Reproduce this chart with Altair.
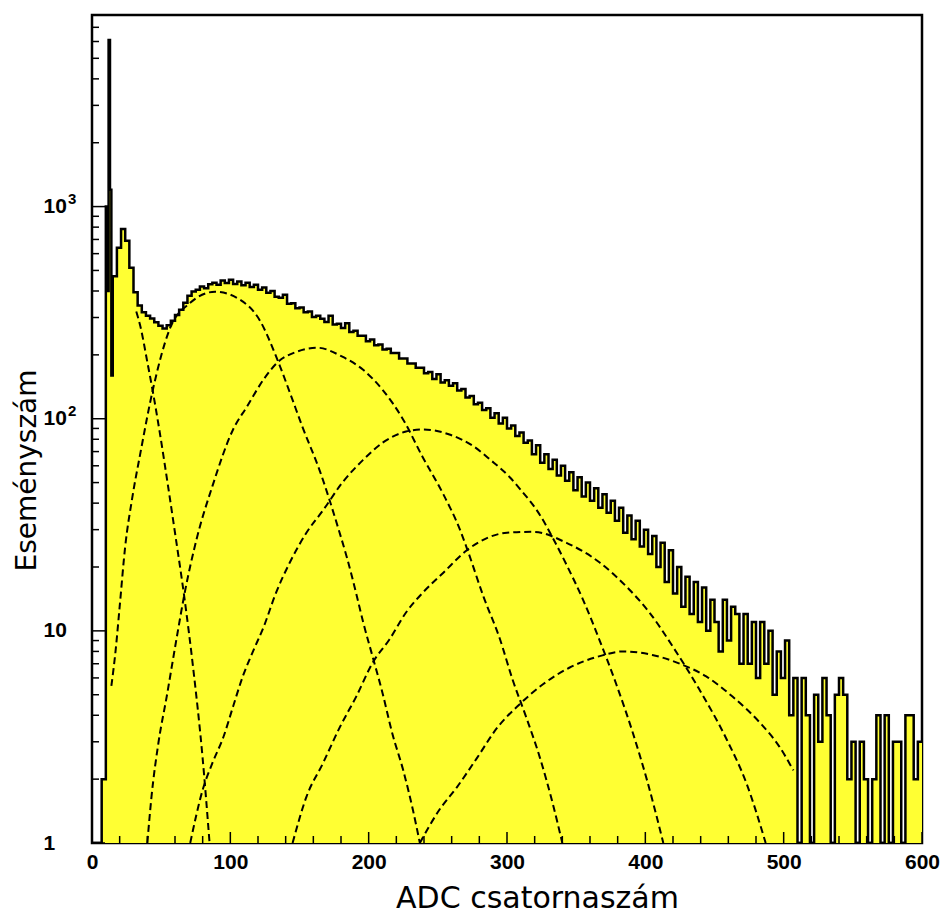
import altair as alt
import pandas as pd

# ---------------- histogram: counts per bin ----------------
# 1-channel bins for channels 0-14 (pedestal spike region)
fine_counts = [0, 0, 0, 0, 0, 0, 0, 2, 2, 2, 1000, 400, 6100, 1200, 160]
# 3-channel bins for channels 15-599
coarse_counts = [
    470, 640, 785, 690, 515, 395, 342, 318, 306, 297,
    285, 274, 266, 276, 290, 308, 326, 352, 380, 398,
    405, 420, 412, 430, 438, 428, 448, 436, 452, 432,
    443, 426, 438, 418, 428, 406, 416, 392, 400, 376,
    372, 384, 348, 350, 332, 334, 318, 320, 302, 306,
    296, 286, 306, 278, 280, 268, 282, 256, 260, 246,
    246, 232, 236, 222, 224, 212, 214, 204, 204, 192,
    192, 182, 182, 174, 174, 164, 166, 154, 162, 148,
    152, 143, 147, 136, 138, 126, 128, 117, 119, 110,
    112, 101, 106, 95, 101, 90, 93, 83, 86, 77,
    79, 68, 75, 62, 68, 58, 64, 54, 60, 51,
    56, 46, 53, 43, 50, 41, 47, 38, 44, 36,
    41, 33, 38, 29, 35, 27, 33, 25, 30, 23,
    28, 20, 26, 17, 24, 15, 20, 13, 18, 12,
    17, 11, 16, 10, 14, 11, 8, 14, 9, 13,
    12, 7, 12, 7, 11, 6, 11, 7, 10, 5,
    8, 6, 9, 4, 6, 1, 6, 4, 1, 5,
    3, 6, 4, 1, 5, 6, 5, 2, 3, 1,
    3, 2, 1, 2, 4, 1, 4, 1, 3, 3,
    1, 4, 4, 2, 3,
]
fine_left = list(range(0, 15))
coarse_left = list(range(15, 600, 3))

# ---------------- fitted components (dashed) ----------------
g1_ch = [32, 35, 40, 44, 49, 55, 60, 67, 73, 80, 85]
g1_val = [320, 272, 185, 134, 86, 48, 29, 14, 6.8, 2.5, 1.0]

g2_ch = [14, 17, 20, 24, 29, 35, 44, 56, 71, 89, 107, 121, 134, 143, 152, 165,
         179, 184, 191, 196, 203, 210, 217, 225, 232, 237]
g2_val = [5.5, 8, 13, 25, 42, 69, 137, 263, 352, 397, 364, 293, 190, 133, 92, 56,
          29, 22.5, 15, 11, 7.5, 5.1, 3.3, 2.2, 1.43, 1.0]

g3_ch = [40, 43, 48, 54, 61, 67, 76, 87, 102, 112, 124, 134, 148, 163, 181, 196,
         210, 225, 239, 254, 266, 271, 283, 295, 304, 314, 324, 333, 340]
g3_val = [1.0, 1.65, 2.96, 4.9, 9.1, 15.1, 27.7, 48, 89, 114, 153, 184, 207, 216, 196, 170,
          137, 99, 66, 44, 30, 24.5, 14.5, 9.1, 5.9, 3.9, 2.5, 1.54, 1.0]

g4_ch = [71, 80, 87, 95, 102, 109, 116, 124, 133, 143, 155, 167, 181, 196, 210, 227,
         239, 259, 276, 288, 302, 309, 324, 333, 343, 355, 367, 379, 391, 401, 413]
g4_val = [1.0, 1.78, 2.38, 3.16, 4.4, 6.1, 7.9, 10.4, 15.1, 21, 29, 37, 50, 64, 77, 87,
          89, 84, 74, 64, 53, 47, 35, 27.5, 20.5, 14, 9, 5.6, 3.3, 2.0, 1.0]

g5_ch = [145, 155, 167, 179, 191, 203, 215, 227, 239, 254, 271, 300, 319, 343, 367,
         387, 403, 420, 439, 459, 473, 487]
g5_val = [1.0, 1.65, 2.38, 3.5, 4.9, 7.1, 9.1, 12.2, 15.1, 18.8, 24, 29, 29.3, 26, 21,
          16, 12.2, 8.4, 5.3, 3.06, 1.92, 1.0]

g6_ch = [237, 251, 264, 278, 293, 309, 326, 345, 367, 384, 405, 425, 444, 463, 483, 497, 507]
g6_val = [1.0, 1.43, 1.84, 2.5, 3.5, 4.5, 5.6, 6.7, 7.6, 8.0, 7.7, 7.0, 6.1, 4.9, 3.68, 2.84, 2.2]

# ---------------- axis ticks / labels ----------------
x_label_values = [0, 100, 200, 300, 400, 500, 600]
x_minor_values = [20, 40, 60, 80, 120, 140, 160, 180, 220, 240, 260, 280, 320, 340, 360, 380,
                  420, 440, 460, 480, 520, 540, 560, 580]
y_label_values = [1, 10, 100, 1000]
y_exponent_values = [100, 1000]
y_exponent_text = ["2", "3"]
y_minor_values = [2, 3, 4, 5, 6, 7, 8, 9, 20, 30, 40, 50, 60, 70, 80, 90,
                  200, 300, 400, 500, 600, 700, 800, 900, 2000, 3000, 4000, 5000, 6000, 7000, 8000]

# ---------------- build tables ----------------
bin_left = fine_left + coarse_left + [600]
bin_counts = fine_counts + coarse_counts + [coarse_counts[-1]]
hist_df = pd.DataFrame({"ch": bin_left, "c": bin_counts})
hist_df["v"] = hist_df["c"].clip(lower=1)

curve_frames = []
for name, xs_, vs_ in [("g1", g1_ch, g1_val), ("g2", g2_ch, g2_val), ("g3", g3_ch, g3_val),
                       ("g4", g4_ch, g4_val), ("g5", g5_ch, g5_val), ("g6", g6_ch, g6_val)]:
    curve_frames.append(pd.DataFrame({"curve": name, "ch": xs_, "v": vs_}))
curve_df = pd.concat(curve_frames, ignore_index=True)

x_major_df = pd.DataFrame({"ch": x_label_values})
x_minor_df = pd.DataFrame({"ch": x_minor_values})
y_major_df = pd.DataFrame({"v": y_label_values})
y_minor_df = pd.DataFrame({"v": y_minor_values})
y_exp_df = pd.DataFrame({"v": y_exponent_values, "t": y_exponent_text})

W, H = 830, 828
LABEL_FONT = "Liberation Sans"
TITLE_FONT = "DejaVu Sans"
YELLOW = "#ffff33"

xs = alt.Scale(domain=[0, 600], nice=False, zero=False)
ys = alt.Scale(type="log", domain=[1, 8000], nice=False, clamp=True)

y_label_expr = "datum.value == 1 ? '\u20071' : '10'"

x_axis = alt.Axis(
    values=x_label_values, ticks=False, tickSize=0, domain=False, grid=False,
    labelFont=LABEL_FONT, labelFontSize=21, labelFontWeight="bold", labelPadding=8,
    labelColor="black", labelFlush=False, labelOverlap=False,
    title="ADC csatornaszám", titleFont=TITLE_FONT, titleFontSize=30, titleFontWeight="normal",
    titleColor="black", titleX=445, titleY=64, titleAlign="center", titleBaseline="alphabetic",
)
y_axis = alt.Axis(
    values=y_label_values, ticks=False, tickSize=0, domain=False, grid=False,
    labelExpr=y_label_expr, labelAlign="left", labelBaseline="middle", labelPadding=49,
    labelFont=LABEL_FONT, labelFontSize=21, labelFontWeight="bold", labelColor="black",
    labelFlush=False, labelOverlap=False,
    title="Eseményszám", titleFont=TITLE_FONT, titleFontSize=28, titleFontWeight="normal",
    titleColor="black", titleAngle=270, titleX=-57, titleY=455, titleAlign="center",
    titleBaseline="alphabetic",
)

X = alt.X("ch:Q", scale=xs, axis=x_axis)
Y = alt.Y("v:Q", scale=ys, axis=y_axis)

area = alt.Chart(hist_df).mark_area(
    interpolate="step-after", color=YELLOW, clip=True
).encode(x=X, y=Y, y2=alt.datum(1))

outline = alt.Chart(hist_df).mark_line(
    interpolate="step-after", color="black", strokeWidth=2.5, clip=True
).encode(x=X, y=Y)

curves = alt.Chart(curve_df).mark_line(
    color="black", strokeWidth=2, strokeDash=[7, 4], interpolate="monotone", clip=True
).encode(x=X, y=Y, detail="curve:N")

x_major = alt.Chart(x_major_df).mark_rule(color="black", strokeWidth=1.5).encode(
    x=X, y=alt.value(H), y2=alt.value(H - 11))
x_minor = alt.Chart(x_minor_df).mark_rule(color="black", strokeWidth=1.5).encode(
    x=X, y=alt.value(H), y2=alt.value(H - 7))
y_major = alt.Chart(y_major_df).mark_rule(color="black", strokeWidth=1.5).encode(
    y=Y, x=alt.value(0), x2=alt.value(13))
y_minor = alt.Chart(y_minor_df).mark_rule(color="black", strokeWidth=1.5).encode(
    y=Y, x=alt.value(0), x2=alt.value(7))

# exponents of the 10^n tick labels, set as superscripts after the "10"
y_exp = alt.Chart(y_exp_df).mark_text(
    font=LABEL_FONT, fontSize=15, fontWeight="bold", color="black",
    align="left", baseline="middle", dy=-8
).encode(y=Y, x=alt.value(-24), text="t:N")

chart = alt.layer(area, outline, curves, x_major, x_minor, y_major, y_minor, y_exp).properties(
    width=W, height=H,
    autosize=alt.AutoSizeParams(type="none"),
    padding={"left": 84, "top": 7, "right": 19, "bottom": 70},
    background="white",
).configure_view(stroke="black", strokeWidth=2.5)

chart.save("out.html", embed_options={"renderer": "svg", "actions": False})
